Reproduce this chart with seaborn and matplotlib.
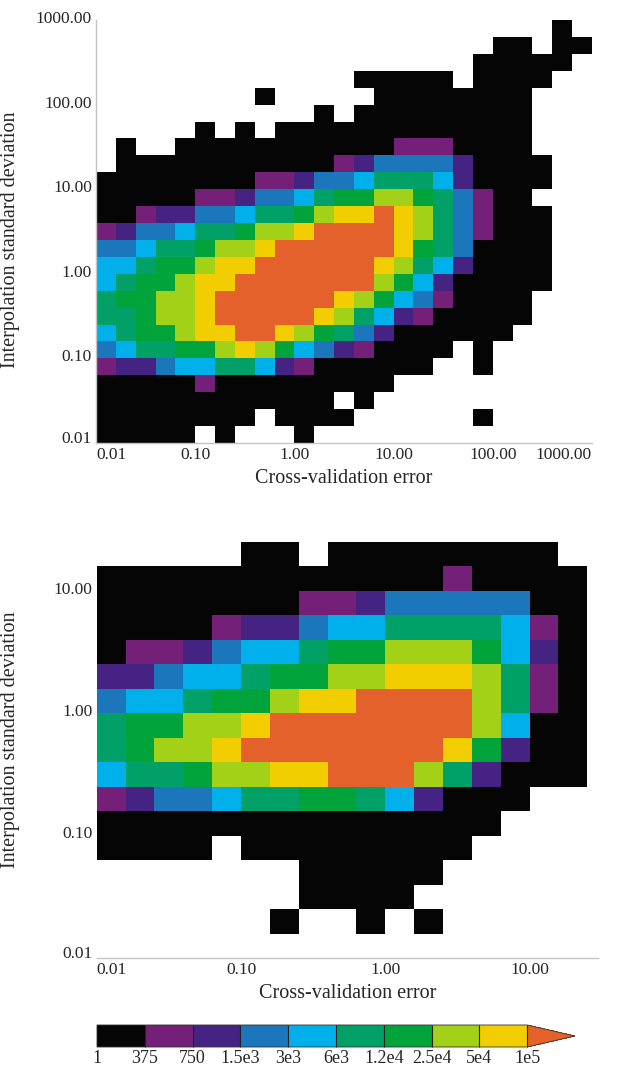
import numpy as np
import pandas as pd
import matplotlib
matplotlib.use("Agg")
import matplotlib.pyplot as plt
from matplotlib.colors import ListedColormap, BoundaryNorm
from matplotlib.transforms import ScaledTranslation
import seaborn as sns

# colour classes of the bin counts (lower bounds) and colour bar labels
bounds = [1, 375, 750, 1500, 3000, 6000, 12000, 25000, 50000, 100000]
bound_labels = ['1', '375', '750', '1.5e3', '3e3', '6e3', '1.2e4', '2.5e4', '5e4', '1e5']
# one typical count per class (class 9 = above 1e5)
class_counts = [40, 530, 1060, 2100, 4200, 8500, 17000, 35000, 70000, 200000]
class_colors = ['#050505', '#741f78', '#452383', '#1b76bb', '#00b0ea',
                '#00a066', '#00a43a', '#a3d117', '#f2cd00', '#e5612b']

# log10 bins of 0.2, rows listed from the top, '.' = empty bin, digit = class
bin_width = 0.2
top_x_lo, top_y_hi = -2.0, 3.0
top_decades = [-2, -1, 0, 1, 2, 3]
top_rows = [
    "....." "....." "....." "....." "...0.",
    "....." "....." "....." "....." "00.00",
    "....." "....." "....." "....0" "0000.",
    "....." "....." "...00" "000.0" "000..",
    "....." "...0." "....0" "00000" "00...",
    "....." "....." ".0.00" "00000" "00...",
    "....." "0.0.0" "00000" "00000" "00...",
    ".0..0" "00000" "00000" "11100" "00...",
    ".0000" "00000" "00123" "33320" "000..",
    "00000" "00011" "23345" "55420" "000..",
    "00000" "11233" "45667" "76531" "00...",
    "00122" "33455" "67889" "87531" "000..",
    "12334" "55677" "89999" "87531" "000..",
    "33455" "67789" "99999" "86530" "000..",
    "44566" "78899" "99998" "75420" "000..",
    "45667" "88999" "99997" "64200" "000..",
    "56677" "89999" "99876" "43100" "00...",
    "55677" "89999" "98754" "21000" "00...",
    "45667" "88998" "76532" "00000" "0....",
    "34556" "67876" "43210" "000.0" ".....",
    "12234" "45542" "10000" "00..0" ".....",
    "00000" "10000" "00000" "....." ".....",
    "00000" "00000" "00.0." "....." ".....",
    "00000" "000.0" "000.." "....0" ".....",
    "00000" ".0..." "0...." "....." ".....",
]

bottom_x_lo, bottom_y_hi = -2.0, 1.4
bottom_x_max = 1.474  # x axis runs a little past the last bin
bottom_decades = [-2, -1, 0, 1]
bottom_rows = [
    "....." "00.00" "00000" "0.",
    "00000" "00000" "00100" "00",
    "00000" "00112" "33333" "00",
    "00001" "22344" "55554" "10",
    "01123" "44566" "77764" "20",
    "22344" "56677" "88875" "10",
    "34456" "67889" "99975" "10",
    "56677" "89999" "99974" "00",
    "56778" "99999" "99862" "00",
    "45567" "78899" "97520" "00",
    "12334" "55665" "42000" "..",
    "00000" "00000" "0000." "..",
    "0000." "00000" "000.." "..",
    "....." "..000" "00..." "..",
    "....." "..000" "0...." "..",
    "....." ".0..0" ".0..." "..",
    "....." "....." "....." "..",
]


def to_frame(rows):
    vals = [[np.nan if ch == '.' else class_counts[int(ch)] for ch in r] for r in rows]
    return pd.DataFrame(vals)


top_df = to_frame(top_rows)
bottom_df = to_frame(bottom_rows)

sns.set_style("white")
plt.rcParams['font.family'] = ['Liberation Serif', 'DejaVu Serif']

cmap = ListedColormap(class_colors[:9])
cmap.set_over(class_colors[9])
norm = BoundaryNorm(bounds, cmap.N)

fig = plt.figure(figsize=(6.26, 10.66), dpi=100)
ax1 = fig.add_axes([96 / 626, 1 - 443 / 1066, 496 / 626, 423 / 1066])
ax2 = fig.add_axes([96.7 / 626, 1 - 958 / 1066, 501.3 / 626, 416.5 / 1066])
cax = fig.add_axes([97 / 626, 1 - 1047 / 1066, 478 / 626, 22 / 1066])

spine_col = '#c4c4c4'
tick_fs = 12.5
label_fs = 14.5
up = ScaledTranslation(0, 0.03, fig.dpi_scale_trans)
up_first = ScaledTranslation(0, 0.06, fig.dpi_scale_trans)

panels = [
    (ax1, top_df, top_x_lo, top_y_hi, top_decades, ['left', 'bottom'], 0.48),
    (ax2, bottom_df, bottom_x_lo, bottom_y_hi, bottom_decades, ['bottom'], 0.523),
]
for ax, df, x_lo, y_hi, decades, spines, ylab_y in panels:
    sns.heatmap(df, ax=ax, mask=df.isna(), cmap=cmap, norm=norm, cbar=False,
                xticklabels=False, yticklabels=False)
    labels = [f"{10.0 ** k:.2f}" for k in decades]
    xpos = [(k - x_lo) / bin_width for k in decades]
    ypos = [(y_hi - k) / bin_width for k in decades]
    ax.set_xticks(xpos)
    xt = ax.set_xticklabels(labels, fontsize=tick_fs)
    ax.set_yticks(ypos)
    yt = ax.set_yticklabels(labels, fontsize=tick_fs, rotation=0)
    ax.tick_params(length=0, pad=3)
    xt[0].set_ha('left')
    yt[0].set_transform(yt[0].get_transform() + up_first)
    for t in yt[1:]:
        t.set_transform(t.get_transform() + up)
    ax.set_xlabel("Cross-validation error", fontsize=label_fs, labelpad=4)
    ax.set_ylabel("Interpolation standard deviation", fontsize=label_fs)
    ax.yaxis.set_label_coords(-0.153, ylab_y)
    for s in ax.spines.values():
        s.set_visible(False)
    for s in spines:
        ax.spines[s].set_visible(True)
        ax.spines[s].set_color(spine_col)
        ax.spines[s].set_linewidth(1.0)

ax1.get_xticklabels()[-1].set_ha('right')
ax2.set_xlim(0, (bottom_x_max - bottom_x_lo) / bin_width)
ax2.set_ylim(len(bottom_rows), 0)

cb = fig.colorbar(ax1.collections[0], cax=cax, orientation='horizontal',
                  extend='max', extendfrac='auto', drawedges=True, spacing='uniform')
cb.set_ticks(bounds)
cb.set_ticklabels(bound_labels)
cb.ax.tick_params(length=0, labelsize=13, pad=2)
cb.outline.set_linewidth(0.6)
cb.outline.set_edgecolor('#333333')
cb.dividers.set_color('#222222')
cb.dividers.set_linewidth(0.8)

fig.savefig("out.png", dpi=100)
